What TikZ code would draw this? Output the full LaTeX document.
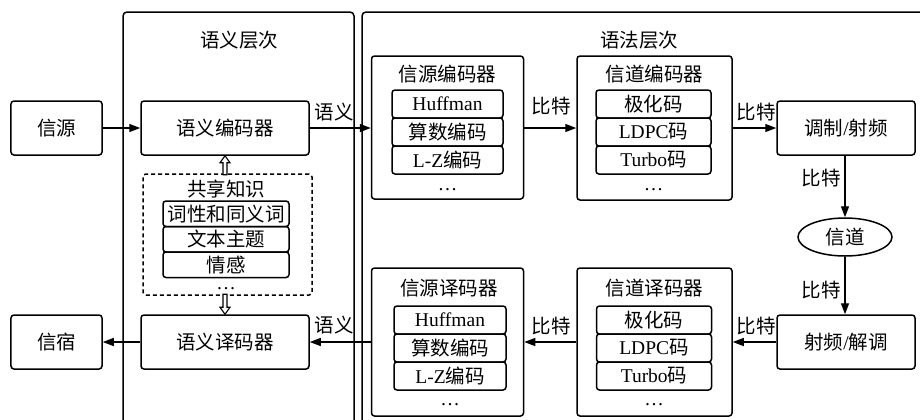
\documentclass[tikz,border=0pt]{standalone}
\usepackage{fontspec}
\setmainfont{Liberation Serif}
\newfontfamily\cjk{Noto Sans CJK SC}
\newcommand{\zh}[1]{{\cjk #1}}
\usetikzlibrary{arrows.meta,shapes.geometric,calc}

\tikzset{
  base/.style={font=\fontsize{19.5bp}{23bp}\selectfont, line width=1.5bp},
  blk/.style={base, draw, rounded corners=3bp, inner sep=0pt, minimum height=54bp},
  grp/.style={base, draw, rounded corners=3bp, inner sep=0pt, minimum width=152bp},
  item/.style={base, draw, rounded corners=3bp, inner sep=0pt, minimum height=28bp},
  kitem/.style={base, draw, rounded corners=3bp, inner sep=0pt, minimum width=126bp, minimum height=25.5bp},
  lbl/.style={font=\fontsize{19.5bp}{23bp}\selectfont, inner sep=0pt},
  frame/.style={line width=1.5bp, rounded corners=4bp},
  conn/.style={line width=1.4bp, -{Triangle[length=11bp,width=8bp]}},
  hollow/.style={line width=1.1bp, fill=white, line join=miter},
}

\begin{document}
\begin{tikzpicture}[x=1bp, y=-1bp]
\useasboundingbox (0,0) rectangle (920,419);
\clip (0,0) rectangle (920,419);

% layer frames (open at the bottom)
\draw[frame] (123,430) |- (354,12) -- (354,430);
\draw[frame] (362,430) |- (940,12);
\node[lbl] (semtitle) at (239,40) {\zh{语义层次}};
\node[lbl] (syntitle) at (639,40) {\zh{语法层次}};

% semantic layer
\node[blk, minimum width=91bp] (src) at (56.5,128) {\zh{信源}};
\node[blk, minimum width=168bp] (senc) at (225,128) {\zh{语义编码器}};
\node[blk, minimum width=168bp] (sdec) at (225,342) {\zh{语义译码器}};
\node[blk, minimum width=91bp] (sink) at (56.5,342) {\zh{信宿}};

% shared knowledge
\node[base, draw, dashed, dash pattern=on 4bp off 3bp, rounded corners=3bp,
      minimum width=169bp, minimum height=121bp] (kb) at (227.5,234.5) {};
\node[lbl] (kbt) at (226,189) {\zh{共享知识}};
\node[kitem] (k1) at (226,213.75) {\zh{词性和同义词}};
\node[kitem] (k2) at (226,239.25) {\zh{文本主题}};
\node[kitem] (k3) at (226,264.75) {\zh{情感}};
\node[lbl, anchor=base] (kdots) at (226,289) {\ldots};

% hollow arrows between knowledge base and semantic codecs
\draw[hollow] (senc.south) -- ++(5,7) -- ++(-3,0) -- ++(0,12) -- ++(-4,0)
  -- ++(0,-12) -- ++(-3,0) -- cycle;
\draw[hollow] (sdec.north) -- ++(5,-7) -- ++(-3,0) -- ++(0,-13) -- ++(-4,0)
  -- ++(0,13) -- ++(-3,0) -- cycle;

% source encoder
\node[grp, minimum height=143bp] (srcenc) at (447.5,127.5) {};
\node[lbl] (srcenct) at (447.5,74) {\zh{信源编码器}};
\node[item, minimum width=111bp] (se1) at (447.5,104) {Huffman};
\node[item, minimum width=111bp] (se2) at (447.5,132) {\zh{算数编码}};
\node[item, minimum width=111bp] (se3) at (447.5,160) {L-Z\zh{编码}};
\node[lbl, anchor=base] (sedots) at (447.5,190) {\ldots};

% channel encoder
\node[grp, minimum width=155bp, minimum height=144bp] (chenc) at (654.5,128) {};
\node[lbl] (chenct) at (654.5,74) {\zh{信道编码器}};
\node[item, minimum width=115bp] (ce1) at (653.5,104) {\zh{极化码}};
\node[item, minimum width=115bp] (ce2) at (653.5,132) {LDPC\zh{码}};
\node[item, minimum width=115bp] (ce3) at (653.5,160) {Turbo\zh{码}};
\node[lbl, anchor=base] (cedots) at (653.5,190) {\ldots};

% source decoder
\node[grp, minimum height=148bp] (srcdec) at (447.5,342) {};
\node[lbl] (srcdect) at (449,288) {\zh{信源译码器}};
\node[item, minimum width=112bp] (sd1) at (450,320) {Huffman};
\node[item, minimum width=112bp] (sd2) at (450,348) {\zh{算数编码}};
\node[item, minimum width=112bp] (sd3) at (450,376) {L-Z\zh{编码}};
\node[lbl, anchor=base] (sddots) at (450,405) {\ldots};

% channel decoder
\node[grp, minimum width=155bp, minimum height=148bp] (chdec) at (654.5,342) {};
\node[lbl] (chdect) at (654.5,288) {\zh{信道译码器}};
\node[item, minimum width=115bp] (cd1) at (654,320) {\zh{极化码}};
\node[item, minimum width=115bp] (cd2) at (654,348) {LDPC\zh{码}};
\node[item, minimum width=115bp] (cd3) at (654,376) {Turbo\zh{码}};
\node[lbl, anchor=base] (cddots) at (654,405) {\ldots};

% RF front ends and channel
\node[blk, minimum width=138bp] (mod) at (846,128) {\zh{调制}/\zh{射频}};
\node[base, draw, ellipse, inner sep=0pt, minimum width=94bp, minimum height=38bp] (ch) at (845,237) {\zh{信道}};
\node[blk, minimum width=138bp] (demod) at (846,342) {\zh{射频}/\zh{解调}};

% connectors
\draw[conn] (src) -- (senc);
\draw[conn] (senc.east) -- (senc.east -| srcenc.west);
\draw[conn] (srcenc.east |- senc.east) -- (senc.east -| chenc.west);
\draw[conn] (chenc.east |- senc.east) -- (mod.west);
\draw[conn] (mod.south -| ch.north) -- (ch.north);
\draw[conn] (ch.south) -- (ch.south |- demod.north);
\draw[conn] (demod.west) -- (demod.west -| chdec.east);
\draw[conn] (chdec.west |- demod.west) -- (demod.west -| srcdec.east);
\draw[conn] (srcdec.west |- sdec.east) -- (sdec.east);
\draw[conn] (sdec) -- (sink);

% connector labels
\node[lbl] (l1) at (334,112) {\zh{语义}};
\node[lbl] (l2) at (551,106) {\zh{比特}};
\node[lbl] (l3) at (756,112) {\zh{比特}};
\node[lbl] (l4) at (821,178) {\zh{比特}};
\node[lbl] (l5) at (821,290) {\zh{比特}};
\node[lbl] (l6) at (756,326) {\zh{比特}};
\node[lbl] (l7) at (551,326) {\zh{比特}};
\node[lbl] (l8) at (334,325) {\zh{语义}};
\end{tikzpicture}
\end{document}
